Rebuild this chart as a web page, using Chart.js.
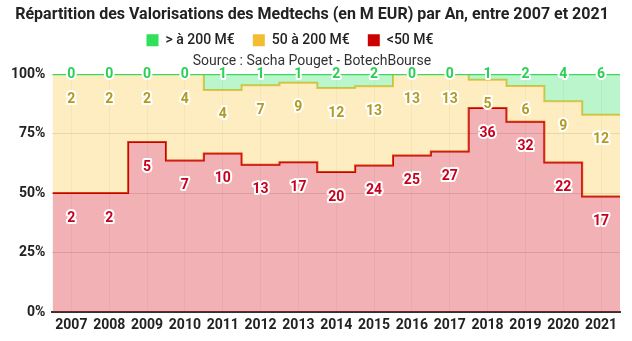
<!DOCTYPE html>
<html>
<head>
<meta charset="utf-8">
<script src="https://cdn.jsdelivr.net/npm/chart.js@4/dist/chart.umd.min.js"></script>
<style>
  html, body { margin: 0; padding: 0; background: #fff; }
  #wrap { width: 632px; height: 341px; }
</style>
</head>
<body>
<div id="wrap"><canvas id="chart"></canvas></div>
<script>
// Nombre de medtechs par tranche de valorisation et par année
const years = [2007, 2008, 2009, 2010, 2011, 2012, 2013, 2014, 2015, 2016, 2017, 2018, 2019, 2020, 2021];
const small = [2, 2, 5, 7, 10, 13, 17, 20, 24, 25, 27, 36, 32, 22, 17];   // <50 M€
const medium = [2, 2, 2, 4, 4, 7, 9, 12, 13, 13, 13, 5, 6, 9, 12];        // 50 à 200 M€
const large = [0, 0, 0, 0, 1, 1, 1, 2, 2, 0, 0, 1, 2, 4, 6];              // > à 200 M€
const percentTicks = [0, 25, 50, 75, 100];

const seriesLabels = ['> à 200 M€', '50 à 200 M€', '<50 M€'];

const totals = years.map((_, i) => small[i] + medium[i] + large[i]);
const pct = (arr, i) => arr[i] / totals[i] * 100;

// Cumulative tops of each band (as % of the year's total)
const topSmall = years.map((_, i) => pct(small, i));
const topMedium = years.map((_, i) => pct(small, i) + pct(medium, i));
const topLarge = years.map((_, i) => pct(small, i) + pct(medium, i) + pct(large, i));

// Steps are centred on each year; the first and last values are held to the plot edges
function stepped(values) {
  const pts = years.map((y, i) => ({ x: y, y: values[i] }));
  pts.unshift({ x: years[0] - 0.5, y: values[0] });
  pts.push({ x: years[years.length - 1] + 0.5, y: values[values.length - 1] });
  return pts;
}

const FONT = 'Roboto, "Noto Sans", sans-serif';

// Count labels: on the line for the top band, just below the step for the others
const valueLabels = {
  id: 'valueLabels',
  afterDatasetsDraw(chart) {
    const ctx = chart.ctx;
    ctx.save();
    ctx.font = 'bold 14px ' + FONT;
    ctx.textAlign = 'center';
    ctx.textBaseline = 'middle';
    ctx.lineJoin = 'round';
    chart.data.datasets.forEach((ds, di) => {
      const meta = chart.getDatasetMeta(di);
      ds.counts.forEach((v, i) => {
        const pt = meta.data[i + 1];
        const x = pt.x, y = pt.y + ds.labelOffset;
        ctx.lineWidth = 4;
        ctx.strokeStyle = '#ffffff';
        ctx.strokeText(String(v), x, y);
        ctx.fillStyle = ds.labelColor;
        ctx.fillText(String(v), x, y);
      });
    });
    ctx.restore();
  }
};

// Nudge the legend row slightly to the left of centre
const legendShift = {
  id: 'legendShift',
  afterLayout(chart) {
    if (chart.legend) {
      chart.legend.left -= 22;
      chart.legend.right -= 22;
    }
  }
};

new Chart(document.getElementById('chart'), {
  type: 'line',
  data: {
    datasets: [
      {
        label: seriesLabels[0],
        data: stepped(topLarge),
        counts: large,
        labelOffset: 0,
        labelColor: '#2bcf55',
        solid: '#2ee05a',
        borderColor: '#3ad85e',
        backgroundColor: 'rgba(60, 225, 110, 0.35)',
        borderWidth: 2.5,
        fill: '+1'
      },
      {
        label: seriesLabels[1],
        data: stepped(topMedium),
        counts: medium,
        labelOffset: 25,
        labelColor: '#b39a22',
        solid: '#f2bd33',
        borderColor: '#eec140',
        backgroundColor: 'rgba(248, 200, 60, 0.32)',
        borderWidth: 2,
        fill: '+1'
      },
      {
        label: seriesLabels[2],
        data: stepped(topSmall),
        counts: small,
        labelOffset: 25,
        labelColor: '#c8001e',
        solid: '#cc0000',
        borderColor: '#c80000',
        backgroundColor: 'rgba(215, 20, 30, 0.33)',
        borderWidth: 2,
        fill: 'origin'
      }
    ]
  },
  options: {
    responsive: true,
    maintainAspectRatio: false,
    animation: false,
    layout: { padding: { left: 4, right: 12, top: 4, bottom: 2 } },
    elements: {
      point: { radius: 0, hoverRadius: 0 },
      line: { stepped: 'middle', tension: 0 }
    },
    scales: {
      x: {
        type: 'linear',
        min: years[0] - 0.5,
        max: years[years.length - 1] + 0.5,
        afterBuildTicks: axis => { axis.ticks = years.map(v => ({ value: v })); },
        ticks: {
          callback: v => String(v),
          font: { family: FONT, size: 14, weight: 'bold' },
          color: '#222',
          padding: 5,
          maxRotation: 0,
          autoSkip: false
        },
        grid: { color: 'rgba(0,0,0,0.05)', drawTicks: false },
        border: { display: true, color: '#333', width: 2 }
      },
      y: {
        min: 0,
        max: 100,
        afterBuildTicks: axis => { axis.ticks = percentTicks.map(v => ({ value: v })); },
        ticks: {
          callback: v => v + '%',
          font: { family: FONT, size: 14, weight: 'bold' },
          color: '#222',
          padding: 7
        },
        grid: { color: 'rgba(0,0,0,0.13)', drawTicks: false },
        border: { display: false }
      }
    },
    plugins: {
      title: {
        display: true,
        text: 'Répartition des Valorisations des Medtechs (en M EUR) par An, entre 2007 et 2021',
        font: { family: FONT, size: 16, weight: 'bold' },
        color: '#222',
        padding: { top: 1, bottom: -9 }
      },
      subtitle: {
        display: true,
        text: 'Source : Sacha Pouget - BotechBourse',
        font: { family: FONT, size: 14, weight: 'normal' },
        color: '#333',
        weight: 500,
        padding: { top: -4, bottom: 4 }
      },
      legend: {
        display: true,
        labels: {
          boxWidth: 12,
          boxHeight: 12,
          padding: 18,
          color: '#222',
          font: { family: FONT, size: 14, weight: '500' },
          generateLabels: chart => chart.data.datasets.map((ds, i) => ({
            text: ds.label,
            fillStyle: ds.solid,
            strokeStyle: ds.solid,
            lineWidth: 0,
            hidden: false,
            datasetIndex: i,
            fontColor: '#222'
          }))
        }
      },
      tooltip: { enabled: false }
    }
  },
  plugins: [valueLabels, legendShift]
});
</script>
</body>
</html>
